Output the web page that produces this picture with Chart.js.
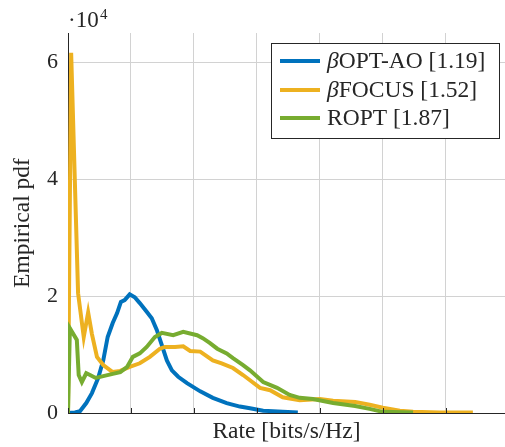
<!DOCTYPE html>
<html>
<head>
<meta charset="utf-8">
<script src="https://cdn.jsdelivr.net/npm/chart.js@4.4.1/dist/chart.umd.min.js"></script>
<style>
  html, body { margin: 0; padding: 0; background: #fff; }
  #wrap { width: 505px; height: 447px; position: relative; }
</style>
</head>
<body>
<div id="wrap"><canvas id="pdfChart"></canvas></div>
<script>
// series names as shown in the legend (mean rate in brackets)
const seriesNames = ["βOPT-AO [1.19]", "βFOCUS [1.52]", "ROPT [1.87]"];
const seriesColors = ["#0072BD", "#EDB120", "#77AC30"];

// βOPT-AO
const rateAO = [0, 0.11, 0.19, 0.29, 0.38, 0.48, 0.56, 0.63, 0.71, 0.78, 0.84, 0.9, 0.98, 1.06, 1.14, 1.25, 1.33, 1.41, 1.49, 1.57, 1.65, 1.75, 1.89, 2.1, 2.3, 2.52, 2.73, 2.89, 3.1, 3.41, 3.65];
const pdfAO = [0, 100, 300, 1700, 3400, 6000, 9000, 13000, 15400, 17100, 19000, 19300, 20300, 19800, 18800, 17300, 16200, 14200, 11600, 9000, 7300, 6200, 5100, 3700, 2600, 1700, 1100, 800, 400, 200, 100];

// βFOCUS
const rateFocus = [0, 0.05, 0.16, 0.25, 0.32, 0.38, 0.46, 0.56, 0.71, 0.83, 0.98, 1.14, 1.3, 1.46, 1.54, 1.7, 1.83, 1.94, 2.1, 2.3, 2.44, 2.62, 2.78, 2.89, 3.05, 3.21, 3.41, 3.68, 4.0, 4.21, 4.56, 4.79, 5.0, 5.27, 5.48, 5.9, 6.43];
const pdfFocus = [0, 61600, 20500, 13000, 17200, 13500, 9600, 8200, 7000, 7200, 7900, 8500, 9600, 11000, 11300, 11300, 11400, 10600, 10500, 9000, 8500, 7700, 6500, 5600, 4300, 3900, 2700, 2200, 2400, 2100, 1900, 1400, 900, 400, 200, 100, 100];

// ROPT
const rateRopt = [0, 0.03, 0.14, 0.17, 0.22, 0.29, 0.35, 0.44, 0.56, 0.71, 0.83, 0.94, 1.03, 1.14, 1.25, 1.38, 1.49, 1.67, 1.83, 2.05, 2.14, 2.25, 2.37, 2.52, 2.62, 2.78, 2.89, 3.1, 3.32, 3.52, 3.68, 3.89, 4.21, 4.56, 4.79, 5.0, 5.48];
const pdfRopt = [0, 14500, 12500, 6500, 5300, 6800, 6500, 6000, 6300, 6700, 7000, 7900, 9600, 10200, 11300, 13000, 13700, 13300, 13900, 13300, 12800, 12000, 11000, 10200, 9400, 8200, 7300, 5300, 4300, 3100, 2600, 2400, 1700, 1200, 700, 200, 100];

const yTicks = [0, 20000, 40000, 60000];
const yExponent = 4;

const serif = '"Liberation Serif", "Times New Roman", serif';
const ink = "#262626";
const gridColor = "#d2d2d2";

function toPoints(xs, ys) {
    return xs.map((x, i) => ({ x: x, y: ys[i] }));
}

// axis exponent, inward x ticks and the boxed legend
const overlay = {
    id: "overlay",
    afterDraw(chart) {
        const ctx = chart.ctx;
        const xs = chart.scales.x;
        const area = chart.chartArea;

        ctx.save();
        ctx.strokeStyle = ink;
        ctx.lineWidth = 1;
        xs.ticks.forEach(t => {
            const px = Math.round(xs.getPixelForValue(t.value)) + 0.5;
            ctx.beginPath();
            ctx.moveTo(px, area.bottom);
            ctx.lineTo(px, area.bottom - 5);
            ctx.stroke();
        });

        ctx.fillStyle = ink;
        ctx.textBaseline = "alphabetic";
        ctx.textAlign = "left";
        ctx.font = "23px " + serif;
        ctx.fillText("·10", 68, 27);
        ctx.font = "15px " + serif;
        ctx.fillText(String(yExponent), 100, 19);

        // legend box
        const bx = 271.5, by = 43.5, bw = 228, bh = 95;
        ctx.fillStyle = "#fff";
        ctx.fillRect(bx, by, bw, bh);
        ctx.strokeStyle = ink;
        ctx.strokeRect(bx, by, bw, bh);

        const rows = [61, 90, 118];
        chart.data.datasets.forEach((ds, i) => {
            const y = rows[i];
            ctx.strokeStyle = ds.borderColor;
            ctx.lineWidth = 4;
            ctx.beginPath();
            ctx.moveTo(280, y);
            ctx.lineTo(320, y);
            ctx.stroke();

            ctx.fillStyle = ink;
            ctx.textBaseline = "middle";
            let x = 327;
            let text = ds.label;
            if (text.startsWith("β")) {
                ctx.font = "italic 23.5px " + serif;
                ctx.fillText("β", x, y + 1);
                x += ctx.measureText("β").width;
                text = text.slice(1);
            }
            ctx.font = "23.5px " + serif;
            ctx.fillText(text, x, y + 1);
        });
        ctx.restore();
    }
};

const ctx = document.getElementById("pdfChart");

new Chart(ctx, {
    type: "line",
    data: {
        datasets: [
            { label: seriesNames[0], data: toPoints(rateAO, pdfAO), borderColor: seriesColors[0], order: 3 },
            { label: seriesNames[1], data: toPoints(rateFocus, pdfFocus), borderColor: seriesColors[1], order: 2 },
            { label: seriesNames[2], data: toPoints(rateRopt, pdfRopt), borderColor: seriesColors[2], order: 1 }
        ]
    },
    options: {
        responsive: true,
        maintainAspectRatio: false,
        animation: false,
        layout: { padding: { top: 33, left: 0, right: 0, bottom: 0 } },
        elements: {
            line: { borderWidth: 4, tension: 0, fill: false },
            point: { radius: 0 }
        },
        plugins: {
            legend: { display: false },
            tooltip: { enabled: false }
        },
        scales: {
            x: {
                type: "linear",
                min: 0,
                max: 6.94,
                afterFit(scale) { scale.height = 34; },
                ticks: { stepSize: 1, includeBounds: false, display: false },
                grid: { color: gridColor, drawTicks: false },
                border: { color: ink, width: 1 },
                title: {
                    display: true,
                    text: "Rate [bits/s/Hz]",
                    color: ink,
                    font: { family: serif, size: 23.5 },
                    padding: { top: 0, bottom: 1 }
                }
            },
            y: {
                min: 0,
                max: 65000,
                afterFit(scale) { scale.width = 68; },
                afterBuildTicks(scale) {
                    scale.ticks = yTicks.map(v => ({ value: v }));
                },
                ticks: {
                    padding: 10,
                    color: ink,
                    font: { family: serif, size: 22 },
                    callback: v => v / Math.pow(10, yExponent)
                },
                grid: { color: gridColor, drawTicks: false },
                border: { color: ink, width: 1 },
                title: {
                    display: true,
                    text: "Empirical pdf",
                    color: ink,
                    font: { family: serif, size: 23.5 },
                    padding: { top: 9, bottom: 0 }
                }
            }
        }
    },
    plugins: [overlay]
});
</script>
</body>
</html>
